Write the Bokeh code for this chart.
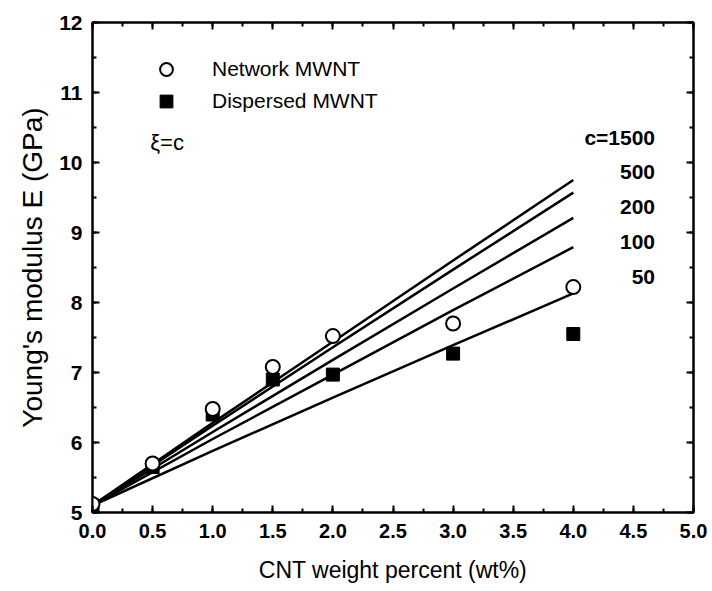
from bokeh.plotting import figure
from bokeh.models import (Range1d, LinearAxis, SingleIntervalTicker, Legend, LegendItem,
                          Label, ColumnDataSource, NumeralTickFormatter, CustomJSTickFormatter)
from bokeh.embed import file_html
from bokeh.resources import INLINE

# Data
wt = [0.0, 0.5, 1.0, 1.5, 2.0, 3.0, 4.0]
E_network = [5.12, 5.70, 6.48, 7.08, 7.52, 7.70, 8.22]
E_dispersed = [5.10, 5.65, 6.40, 6.90, 6.97, 7.27, 7.55]

model_x = [0.0, 1.0, 2.0, 3.0, 4.0]
model_c = ["c=1500", "500", "200", "100", "50"]
model_E = [
    [5.10, 6.28, 7.44, 8.60, 9.75],
    [5.10, 6.24, 7.36, 8.47, 9.57],
    [5.10, 6.15, 7.18, 8.20, 9.21],
    [5.10, 6.05, 6.97, 7.89, 8.79],
    [5.10, 5.88, 6.64, 7.39, 8.13],
]
label_y = [10.36, 9.86, 9.36, 8.87, 8.36]

x_title = "CNT weight percent (wt%)"
y_title = "Young's modulus E (GPa)"

FONT = "Liberation Sans"

p = figure(width=708, height=588, output_backend="svg", toolbar_location=None,
           x_range=Range1d(0, 5), y_range=Range1d(5, 12),
           min_border_left=92, min_border_right=15, min_border_top=22, min_border_bottom=76)
p.background_fill_color = "white"
p.border_fill_color = "white"
p.outline_line_color = "black"
p.outline_line_width = 2
p.grid.visible = False

for ax in (p.xaxis[0], p.yaxis[0]):
    ax.major_tick_in = 7
    ax.major_tick_out = 0
    ax.minor_tick_in = 4
    ax.minor_tick_out = 0
    ax.axis_line_width = 2
    ax.major_tick_line_width = 2
    ax.minor_tick_line_width = 2
    ax.major_label_text_font = FONT
    ax.major_label_text_font_style = "bold"
    ax.major_label_text_color = "black"
    ax.axis_label_text_font = FONT
    ax.axis_label_text_font_style = "normal"
    ax.axis_label_text_color = "black"
p.xaxis[0].major_label_text_font_size = "20px"
p.yaxis[0].major_label_text_font_size = "21px"
p.xaxis[0].axis_label_text_font_size = "23px"
p.yaxis[0].axis_label_text_font_size = "28px"

p.xaxis[0].ticker = SingleIntervalTicker(interval=0.5, num_minor_ticks=2)
p.yaxis[0].ticker = SingleIntervalTicker(interval=1, num_minor_ticks=2)
p.xaxis[0].formatter = NumeralTickFormatter(format="0.0")
p.xaxis[0].major_label_standoff = 11
p.yaxis[0].major_label_standoff = 10
p.xaxis.axis_label = x_title
p.yaxis.axis_label = y_title
p.xaxis[0].axis_label_standoff = 16
p.yaxis[0].axis_label_standoff = 8

blank = CustomJSTickFormatter(code="return ''")
# mirror axes
top = LinearAxis(ticker=SingleIntervalTicker(interval=0.5, num_minor_ticks=2),
                 formatter=blank, major_tick_in=7, major_tick_out=0,
                 minor_tick_in=4, minor_tick_out=0, axis_line_width=2,
                 major_tick_line_width=2, minor_tick_line_width=2, major_label_standoff=0)
right = LinearAxis(ticker=SingleIntervalTicker(interval=1, num_minor_ticks=2),
                   formatter=blank, major_tick_in=7, major_tick_out=0,
                   minor_tick_in=4, minor_tick_out=0, axis_line_width=2,
                   major_tick_line_width=2, minor_tick_line_width=2, major_label_standoff=0)
p.add_layout(top, "above")
p.add_layout(right, "right")

# model lines
for ys in model_E:
    p.line(model_x, ys, line_color="black", line_width=2.5)

# data
src_n = ColumnDataSource(dict(x=wt, y=E_network))
src_d = ColumnDataSource(dict(x=wt, y=E_dispersed))
r_d = p.scatter("x", "y", source=src_d, marker="square", size=13,
                fill_color="black", line_color="black", line_width=1)
r_n = p.scatter("x", "y", source=src_n, marker="circle", size=14,
                fill_color="white", line_color="black", line_width=2)

legend = Legend(items=[LegendItem(label="Network MWNT", renderers=[r_n]),
                       LegendItem(label="Dispersed MWNT", renderers=[r_d])],
                location=(58, 395), glyph_width=32, glyph_height=32, label_height=32,
                spacing=-3, padding=0, margin=0, label_standoff=30,
                label_text_font=FONT, label_text_font_size="21px",
                label_text_color="black",
                border_line_color=None, background_fill_alpha=0)
p.add_layout(legend)

p.add_layout(Label(x=0.48, y=10.29, text="ξ=c", text_font=FONT, text_font_size="22px",
                   text_color="black", text_baseline="middle", text_align="left"))
for t, yy in zip(model_c, label_y):
    p.add_layout(Label(x=4.68, y=yy, text=t, text_font=FONT, text_font_size="21px",
                       text_color="black", text_font_style="bold",
                       text_baseline="middle", text_align="right"))

open("out.html", "w").write(file_html(p, INLINE))
